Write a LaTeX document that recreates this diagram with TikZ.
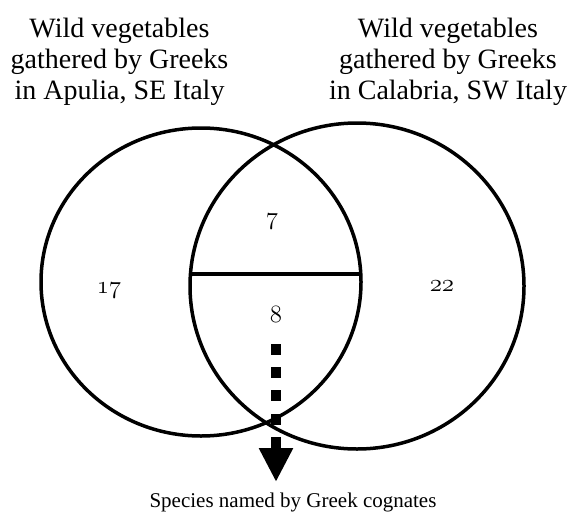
\documentclass[tikz,border=0pt]{standalone}
\usepackage{fontspec}
\setmainfont{Liberation Serif}
\usetikzlibrary{arrows.meta}

\begin{document}
\begin{tikzpicture}[x=1pt, y=-1pt,
    heading/.style={align=center, inner sep=0pt, anchor=north, font=\fontsize{28}{31}\selectfont},
    count/.style={inner sep=0pt, font=\fontsize{24}{24}\selectfont},
    ring/.style={line width=3.5pt}]
    \useasboundingbox (0,0) rectangle (569,511);

    % the two sets
    \draw[ring] (201,282) ellipse [x radius=160pt, y radius=154pt];
    \draw[ring] (357,286) ellipse [x radius=167pt, y radius=163pt];
    \draw[ring] (190.5,274) -- (360.8,274);

    \node (apulia) [heading] at (119.5,18) {Wild vegetables\\gathered by Greeks\\in Apulia, SE Italy};
    \node (calabria) [heading] at (448,18) {Wild vegetables\\gathered by Greeks\\in Calabria, SW Italy};

    \node (n17) [count] at (109,291) {$\mathnormal{17}$};
    \node (n7) [count] at (272,222) {$\mathnormal{7}$};
    \node (n8) [count] at (276,314) {$\mathnormal{8}$};
    \node (n22) [count] at (442,286) {$\mathnormal{22}$};

    \node (cognates) [anchor=base, font=\fontsize{21}{21}\selectfont] at (293,507) {Species named by Greek cognates};

    \coordinate (arrowtop) at (n8.south |- 0,344);
    \coordinate (arrowtip) at (n8.south |- 0,482);
    \draw[line width=10pt, dash pattern=on 11pt off 12.2pt, -{Triangle[length=34pt,width=32pt]}] (arrowtop) -- (arrowtip);
\end{tikzpicture}
\end{document}
